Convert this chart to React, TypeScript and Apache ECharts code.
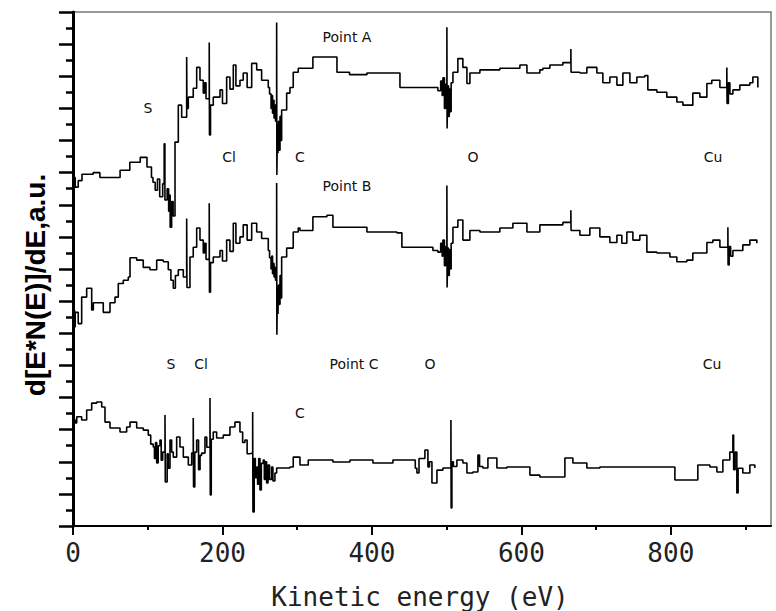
import React, { useEffect, useRef } from "react";
import * as echarts from "echarts";

// Auger spectra: [kinetic energy (eV), d[E*N(E)]/dE (a.u., offset)]
const pointA: [number, number][] = [
  [0, 21.7], [3, 21.1], [7, 21.5], [12, 21.9], [27, 22.0], [36, 21.7], [58, 21.7], [63, 22.15], [76, 22.65], [90, 22.95],
  [99, 22.35], [105, 21.7], [107, 21.4], [110, 20.9], [113, 21.6], [116, 20.5], [120, 21.3], [122, 23.8], [123, 20.3],
  [126, 21.0], [128, 19.6], [129, 20.6], [130, 18.6], [132, 20.2], [134, 19.3], [136.5, 23.9], [140.9, 26.2], [145.4, 25.45],
  [152.1, 29.2], [152.5, 26.0], [154.3, 26.7], [160.9, 27.25], [165.5, 28.55], [169.9, 27.75], [174.3, 26.95], [176, 27.6],
  [178, 26.6], [182.3, 30.1], [182.6, 24.35], [184, 26.2], [187.7, 26.7], [196.7, 27.15], [200, 26.3], [205.6, 27.95],
  [210, 27.2], [214.5, 28.7], [218, 27.4], [223.4, 27.75], [227.8, 28.2], [233, 27.3], [239.1, 28.8], [245.8, 28.4],
  [252.4, 27.75], [261.3, 27.3], [263, 26.9], [265, 26.0], [266, 26.8], [267, 25.7], [268, 26.5], [269, 25.4], [270, 26.2],
  [271, 25.2], [272.5, 31.35], [272.8, 21.85], [273.5, 25.0], [274.3, 23.2], [275, 25.2], [276, 23.4], [277, 25.5],
  [278, 24.0], [279.2, 25.9], [285.9, 26.95], [290.3, 27.3], [294.7, 28.25], [301.4, 28.5], [314.8, 28.5], [321, 29.2],
  [339.8, 29.2], [353.2, 28.25], [370, 28.1], [393.3, 28.2], [433.4, 28.2], [437.5, 27.3], [481.6, 27.3], [488.3, 27.1],
  [492, 27.7], [494, 26.8], [495, 27.9], [497, 26.0], [498.5, 27.5], [500.3, 31.05], [500.6, 24.75], [501.5, 27.4],
  [502.5, 25.5], [503.5, 27.2], [505, 25.8], [506, 27.6], [508.4, 28.25], [515, 29.1],
  [521.7, 28.55], [527.1, 27.55], [531.1, 28.2], [544.5, 28.4], [571.2, 28.5], [598, 28.7], [607.4, 28.2], [624.7, 28.4],
  [628.8, 28.5], [638.1, 28.7], [655.5, 28.85], [666.2, 29.7], [666.5, 28.25], [678.3, 28.2], [687.6, 28.55], [701, 28.2],
  [709, 27.6], [718.4, 27.95], [727.8, 27.45], [735.8, 28.2], [745.2, 27.6], [754.5, 27.95], [765.2, 28.05], [769.2, 27.15],
  [781.3, 27.0], [794.6, 26.7], [808, 26.4], [816.1, 26.2], [829.4, 26.95], [838.8, 26.7], [848.2, 27.55], [854.8, 27.75],
  [865.6, 27.3], [874.9, 28.55], [875.2, 26.3], [877, 27.6], [879, 26.9], [883, 27.15], [892.3, 27.45], [905.7, 27.6],
  [909.7, 27.95], [916.4, 27.3],
];

const pointB: [number, number][] = [
  [0, 13.0], [1, 13.45], [2, 12.4], [3, 13.3], [7, 12.6], [11.6, 14.25], [18.3, 14.8], [25, 13.45], [27.2, 13.9],
  [40.5, 13.3], [49.5, 13.9], [56.2, 14.25], [60.6, 15.1], [67.3, 15.3], [74, 15.5], [76.3, 16.7], [85.2, 16.55], [94, 16.1],
  [103, 15.95], [112, 16.55], [120.8, 16.45], [127.5, 15.95], [131, 15.3], [134.2, 14.8], [137, 15.6], [140.9, 15.95],
  [147.6, 15.5], [152.1, 19.15], [152.5, 14.85], [156.5, 16.75], [160.9, 17.35], [165.5, 18.55], [169.9, 17.8], [174.3, 17.0],
  [176, 17.6], [178, 16.6], [182.3, 20.1], [182.6, 14.55], [184, 16.4], [187.7, 16.75], [196.7, 17.15], [200, 16.5],
  [205.6, 17.8], [210, 17.1], [214.5, 18.85], [218, 17.6], [223.4, 18.0], [227.8, 18.75], [233, 17.8], [239.1, 18.85],
  [245.8, 18.3], [252.4, 17.9], [261.3, 17.15], [263, 16.7], [265, 16.0], [266, 16.8], [267, 15.7], [268, 16.35],
  [269, 15.5], [270, 16.1], [271, 15.3], [272.5, 21.35], [272.8, 11.9], [273.5, 14.8], [274.3, 13.2], [275, 15.0],
  [276, 13.8], [277, 15.6], [278, 14.2], [279.2, 16.75], [285.9, 17.3], [294.7, 18.3], [301.4, 18.55], [303.7, 18.4],
  [321, 19.25], [339.8, 19.35], [347.8, 18.6], [393.3, 18.3], [433.4, 18.25], [440.1, 17.35], [481.6, 17.15], [488.3, 17.05],
  [492, 17.6], [494, 16.8], [495, 17.8], [497, 16.2], [498.5, 17.4], [500.3, 21.2], [500.6, 14.85], [501.5, 17.3],
  [502.5, 15.6], [503.5, 17.2], [505, 16.0], [506, 17.6], [508.4, 18.6], [515, 19.05], [521.7, 17.8],
  [531.1, 18.4], [544.5, 18.3], [571.2, 18.55], [588.6, 18.85], [607.4, 18.3], [624.7, 18.75], [655.5, 18.9], [666.2, 19.65],
  [666.5, 18.4], [678.3, 18.1], [691.6, 18.55], [705, 18.0], [718.4, 17.65], [727.8, 18.1], [734.4, 17.6], [741.1, 18.3],
  [749.2, 17.8], [758.5, 18.1], [767.9, 17.05], [781.3, 17.0], [798.7, 16.75], [808, 16.45], [821.4, 16.55], [829.4, 17.0],
  [841.5, 17.0], [848.2, 17.65], [856.2, 17.8], [865.6, 17.35], [876.3, 18.6], [876.6, 16.25], [878, 17.4], [880, 16.8],
  [883, 17.15], [896.3, 17.5], [905.7, 17.8], [915, 17.6],
];

const pointC: [number, number][] = [
  [0, 7.97], [1, 6.6], [3, 6.41], [5, 6.8], [11.6, 6.6], [18.3, 7.22], [25, 7.65], [31.7, 7.72], [38.4, 7.41], [42.8, 6.47],
  [49.5, 6.1], [62.9, 5.85], [71.8, 6.16], [76.3, 6.47], [85.2, 6.1], [94, 5.97], [100.7, 5.66], [104, 5.1], [107.4, 4.92],
  [109, 4.2], [110.5, 5.2], [112, 3.92], [114, 5.0], [116.4, 5.35], [118, 4.1], [120, 4.6], [123.1, 6.91], [123.5, 2.74],
  [126, 4.5], [127.5, 3.6], [129.8, 5.35], [132, 4.6], [134.2, 4.29], [138.7, 5.54], [143.1, 4.92], [147.6, 4.29],
  [154.3, 3.8], [158.8, 4.54], [160.9, 6.72], [161.3, 2.43], [163, 4.6], [165.5, 5.35], [168, 3.5], [170, 4.4],
  [172.2, 4.54], [176.6, 5.54], [179, 4.9], [183.3, 7.97], [183.7, 1.93], [185, 5.4], [187.7, 5.85], [192.2, 5.48],
  [201.1, 5.66], [210, 6.16], [216.7, 6.47], [223.4, 5.85], [227, 5.2], [230.1, 5.35], [233, 4.5], [236.8, 4.54],
  [240.4, 7.09], [240.8, 0.87], [242.5, 4.2], [244, 3.0], [245.8, 3.67], [247, 2.6], [248.5, 4.2], [250.2, 2.24],
  [252, 3.9], [254.6, 4.11], [256, 2.9], [257.5, 4.0], [259.1, 2.68], [261, 3.8], [263, 2.9], [265.8, 3.67], [267.5, 2.8],
  [270.2, 3.3], [272.5, 3.61], [290.3, 3.67], [294.7, 4.29], [303.7, 3.8], [314.8, 4.11], [326.4, 4.11], [347.8, 3.98],
  [370.6, 4.11], [393.3, 4.11], [401.3, 3.92], [428.1, 4.11], [454.8, 4.11], [458, 3.6], [460.2, 3.3], [463, 4.2],
  [470.9, 4.73], [474.9, 3.67], [477, 4.0], [480.3, 2.68], [487, 3.48], [495, 3.61], [505.7, 6.6], [506, 1.12],
  [507, 4.0], [509, 3.7], [513.7, 4.11], [521.7, 3.92], [527.1, 3.3], [535.1, 3.36], [541.8, 4.42], [544, 3.7], [548.5, 3.61], [555.2, 4.23],
  [567.2, 3.61], [580.6, 3.67], [598, 3.67], [611.4, 3.17], [624.7, 3.05], [655.5, 3.05], [658.2, 4.23], [668.9, 3.92],
  [687.6, 3.61], [705, 3.67], [731.8, 3.67], [758.5, 3.67], [798.7, 3.67], [805.4, 2.86], [834.8, 2.86], [836.1, 3.8],
  [852.2, 3.67], [861.6, 3.36], [869.6, 4.11], [878.9, 4.6], [883, 5.66], [884, 3.5], [886, 4.6], [888.3, 2.05],
  [890, 3.6], [896.3, 3.3], [905.7, 3.8], [912.4, 3.61],
];

const majorTicksX = [0, 200, 400, 600, 800];
const minorTicksX = [100, 300, 500, 700, 900];

const annotations: { text: string; x: number; y: number }[] = [
  { text: "Point A", x: 347, y: 37 },
  { text: "S", x: 148, y: 108 },
  { text: "Cl", x: 229, y: 157 },
  { text: "C", x: 300, y: 157 },
  { text: "O", x: 473, y: 157 },
  { text: "Cu", x: 713, y: 157 },
  { text: "Point B", x: 347, y: 186 },
  { text: "S", x: 171, y: 364 },
  { text: "Cl", x: 201, y: 364 },
  { text: "Point C", x: 354, y: 364 },
  { text: "O", x: 430, y: 364 },
  { text: "Cu", x: 712, y: 364 },
  { text: "C", x: 300, y: 413 },
];

export default function App() {
  const ref = useRef<HTMLDivElement>(null);
  useEffect(() => {
    if (!ref.current) return;
    const chart = echarts.init(ref.current, undefined, { renderer: "svg" });
    const mkSeries = (name: string, data: [number, number][]) => ({
      name,
      type: "line",
      data,
      step: "end",
      showSymbol: false,
      silent: true,
      lineStyle: { color: "#000", width: 1.6 },
      itemStyle: { color: "#000" },
    });
    chart.setOption({
      animation: false,
      backgroundColor: "#fff",
      grid: { left: 73, top: 12, right: 5, bottom: 85, show: true, borderColor: "#777", borderWidth: 1.5 },
      xAxis: [
        {
          type: "value",
          min: 0,
          max: 934,
          interval: 200,
          position: "bottom",
          axisLine: { lineStyle: { color: "#000", width: 2 } },
          axisTick: { show: true, length: 9, customValues: majorTicksX, lineStyle: { color: "#000", width: 2 } },
          axisLabel: {
            customValues: majorTicksX,
            margin: 14,
            color: "#222",
            fontFamily: "DejaVu Sans Mono",
            fontSize: 26,
          },
          splitLine: { show: false },
        },
        {
          type: "value",
          min: 0,
          max: 934,
          position: "bottom",
          offset: 0,
          axisLine: { show: false },
          axisTick: { show: true, length: 4, customValues: minorTicksX, lineStyle: { color: "#000", width: 2 } },
          axisLabel: { show: false },
          splitLine: { show: false },
        },
      ],
      yAxis: {
        type: "value",
        min: 0,
        max: 32,
        interval: 2,
        axisLine: { show: true, lineStyle: { color: "#000", width: 3 } },
        axisTick: { show: true, length: 14, lineStyle: { color: "#000", width: 2.5 } },
        minorTick: { show: true, splitNumber: 2, length: 7, lineStyle: { color: "#000", width: 2.5 } },
        axisLabel: { show: false },
        splitLine: { show: false },
      },
      series: [mkSeries("Point A", pointA), mkSeries("Point B", pointB), mkSeries("Point C", pointC)],
      graphic: [
        ...annotations.map((a) => ({
          type: "text",
          x: a.x,
          y: a.y,
          silent: true,
          style: {
            text: a.text,
            fill: "#111",
            font: "14px 'DejaVu Sans'",
            align: "center",
            verticalAlign: "middle",
          },
        })),
        {
          type: "text",
          x: 420,
          y: 597,
          silent: true,
          style: {
            text: "Kinetic energy (eV)",
            fill: "#222",
            font: "26px 'DejaVu Sans Mono'",
            align: "center",
            verticalAlign: "middle",
          },
        },
        {
          type: "text",
          x: 35,
          y: 285,
          rotation: Math.PI / 2,
          silent: true,
          style: {
            text: "d[E*N(E)]/dE,a.u.",
            fill: "#000",
            font: "bold 28px 'Liberation Sans'",
            align: "center",
            verticalAlign: "middle",
          },
        },
      ],
    });
    return () => chart.dispose();
  }, []);
  return (
    <div
      ref={ref}
      style={{ position: "fixed", left: 0, top: 0, width: 776, height: 611, background: "#fff" }}
    />
  );
}
